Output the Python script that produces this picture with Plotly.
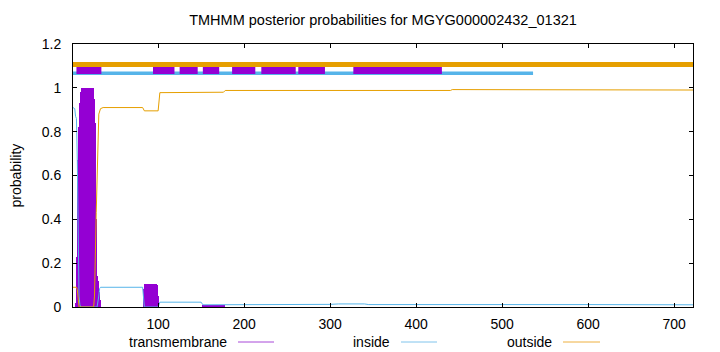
import plotly.graph_objects as go

# ---------------- data ----------------
seq_len = 722

# transmembrane posterior (impulses), position -> probability
tm_pos = [4, 5, 6, 7, 8, 9, 10, 11, 12, 13, 14, 15, 16, 17, 18, 19, 20, 21, 22, 23, 24,
          25, 26, 27, 28, 29, 30, 31, 32, 33,
          84, 85, 86, 87, 88, 89, 90, 91, 92, 93, 94, 95, 96, 97, 98, 99, 100,
          152, 153, 154, 155, 156, 157, 158, 159, 160, 161, 162, 163, 164, 165, 166,
          167, 168, 169, 170, 171, 172, 173, 174, 175, 176, 177]
tm_val = [0.02, 0.055, 0.23, 0.67, 0.82, 0.93, 0.98, 1.0, 1.0, 1.0, 1.0, 1.0, 1.0, 1.0, 1.0,
          1.0, 1.0, 1.0, 1.0, 1.0, 1.0,
          0.95, 0.87, 0.84, 0.40, 0.14, 0.12, 0.07, 0.03, 0.01,
          0.08, 0.105, 0.105, 0.105, 0.105, 0.105, 0.105, 0.105, 0.105, 0.105, 0.105,
          0.105, 0.105, 0.105, 0.105, 0.10, 0.05,
          0.01, 0.01, 0.01, 0.01, 0.01, 0.01, 0.01, 0.01, 0.01, 0.01, 0.01, 0.01, 0.01,
          0.01, 0.01, 0.01, 0.01, 0.01, 0.01, 0.01, 0.01, 0.01, 0.01, 0.01, 0.01, 0.01]

# inside posterior (breakpoints of the curve)
in_pos = [1, 3, 4, 5, 6, 7, 8, 9, 10, 29, 30, 31, 32, 33, 82, 83, 84, 100, 101, 102,
          150, 152, 300, 310, 340, 345, 600, 722]
in_val = [0.91, 0.905, 0.87, 0.86, 0.67, 0.25, 0.05, 0.01, 0.0, 0.0, 0.02, 0.05, 0.085,
          0.09, 0.09, 0.05, 0.0, 0.0, 0.015, 0.022, 0.022, 0.01, 0.012, 0.014, 0.014,
          0.011, 0.011, 0.01]

# outside posterior (breakpoints of the curve)
out_pos = [1, 5, 6, 7, 8, 25, 26, 28, 30, 31, 33, 36, 82, 84, 100, 101, 102, 176, 178,
           440, 442, 722]
out_val = [0.09, 0.09, 0.08, 0.05, 0.0, 0.0, 0.05, 0.43, 0.85, 0.88, 0.905, 0.91, 0.91,
           0.895, 0.895, 0.96, 0.978, 0.98, 0.988, 0.988, 0.992, 0.99]

# predicted topology bands drawn above the curves
band_tm_start = [5, 94, 125, 152, 186, 220, 263, 327]
band_tm_end = [34, 119, 146, 171, 213, 260, 294, 430]
band_in_start, band_in_end = 1, 536
band_out_start, band_out_end = 1, 722

title_text = "TMHMM posterior probabilities for MGYG000002432_01321"
x_ticks = [100, 200, 300, 400, 500, 600, 700]
y_ticks = [0, 0.2, 0.4, 0.6, 0.8, 1.0, 1.2]
legend_names = ["transmembrane", "inside", "outside"]

# ---------------- styling ----------------
C_TM = "#9400d3"
C_IN = "#56b4e9"
C_OUT = "#e69f00"
FONT = "Liberation Sans, Arial, sans-serif"
FS = 14

fig = go.Figure()

# impulses
fig.add_trace(go.Bar(x=tm_pos, y=tm_val, width=1.0,
                     marker=dict(color=C_TM, line=dict(width=0)),
                     showlegend=False, hoverinfo="skip"))
# inside / outside curves
fig.add_trace(go.Scatter(x=in_pos, y=in_val, mode="lines",
                         line=dict(color=C_IN, width=1), showlegend=False))
fig.add_trace(go.Scatter(x=out_pos, y=out_val, mode="lines",
                         line=dict(color=C_OUT, width=1), showlegend=False))

# top bands
fig.add_trace(go.Scatter(x=[band_in_start, band_in_end], y=[1.066, 1.066], mode="lines",
                         line=dict(color=C_IN, width=3.5), showlegend=False))
bx, by = [], []
for s, e in zip(band_tm_start, band_tm_end):
    bx += [s, e, None]
    by += [1.086, 1.086, None]
fig.add_trace(go.Scatter(x=bx, y=by, mode="lines",
                         line=dict(color=C_TM, width=10), showlegend=False))
fig.add_trace(go.Scatter(x=[band_out_start, band_out_end], y=[1.107, 1.107], mode="lines",
                         line=dict(color=C_OUT, width=5), showlegend=False))

# ---------------- layout ----------------
L, R, T, B = 73, 27, 44, 45
W, H = 720, 352
pw = W - L - R
ph = H - T - B

fig.update_layout(
    width=W, height=H,
    margin=dict(l=L, r=R, t=T, b=B),
    paper_bgcolor="white", plot_bgcolor="white",
    font=dict(family=FONT, size=FS, color="black"),
    bargap=0,
    title=dict(text=title_text, x=0.5, xref="paper", y=1 - 20 / H, yref="container",
               xanchor="center", yanchor="middle",
               font=dict(family=FONT, size=14.5, color="black")),
)
fig.update_xaxes(range=[1, seq_len], tickvals=x_ticks, ticks="inside", ticklen=4,
                 tickcolor="black", showline=True, linecolor="black", linewidth=1,
                 mirror="ticks", showgrid=False, zeroline=False,
                 ticklabelstandoff=4)
fig.update_yaxes(range=[0, 1.2], tickvals=y_ticks, ticks="inside", ticklen=4,
                 tickcolor="black", showline=True, linecolor="black", linewidth=1,
                 mirror="ticks", showgrid=False, zeroline=False,
                 ticklabelstandoff=8)

# y-axis title
fig.add_annotation(text="probability", xref="paper", yref="paper",
                   x=(15 - L) / pw, y=0.5, textangle=-90, showarrow=False,
                   xanchor="center", yanchor="middle",
                   font=dict(family=FONT, size=FS, color="black"))

# manual gnuplot-style legend (text left of sample)
leg_y = (ph - (342 - T)) / ph
leg_text_right = [229, 392, 554]
leg_line = [(238, 274), (401, 437), (563, 600)]
leg_cols = ["#a848d8", "#80c4ec", "#eeb040"]
for name, tr, (l0, l1), col in zip(legend_names, leg_text_right, leg_line, leg_cols):
    fig.add_annotation(text=name, xref="paper", yref="paper",
                       x=(tr - L) / pw, y=leg_y, showarrow=False,
                       xanchor="right", yanchor="middle",
                       font=dict(family=FONT, size=FS, color="black"))
    fig.add_shape(type="line", xref="paper", yref="paper",
                  x0=(l0 - L) / pw, x1=(l1 - L) / pw, y0=leg_y, y1=leg_y,
                  line=dict(color=col, width=1))

fig.write_html("out.html")
